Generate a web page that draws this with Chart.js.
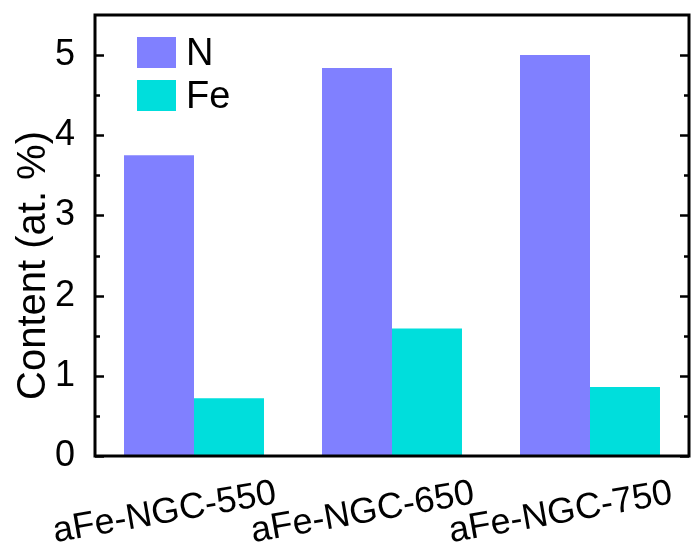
<!DOCTYPE html>
<html>
<head>
<meta charset="utf-8">
<script src="https://cdn.jsdelivr.net/npm/chart.js@4"></script>
<style>
    html, body { margin: 0; padding: 0; background: #fff; }
    #wrap { width: 691px; height: 547px; }
</style>
</head>
<body>
<div id="wrap"><canvas id="contentChart" width="691" height="547"></canvas></div>
<script>
var categories = ["aFe-NGC-550", "aFe-NGC-650", "aFe-NGC-750"];
var nValues = [3.75, 4.84, 5.0];
var feValues = [0.72, 1.59, 0.86];
var yTicks = [0, 1, 2, 3, 4, 5];
var yTitle = "Content (at. %)";

var FONT = "'Liberation Sans', Arial, sans-serif";
Chart.defaults.color = "#000";
Chart.defaults.font.family = FONT;

// frame, inner tick marks, legend and y title
var decorations = {
    id: "decorations",
    afterDraw: function(chart) {
        var ctx = chart.ctx;
        var area = chart.chartArea;
        var y = chart.scales.y;
        ctx.save();
        ctx.strokeStyle = "#000";
        ctx.lineWidth = 3;
        ctx.strokeRect(area.left, area.top, area.right - area.left, area.bottom - area.top);

        ctx.lineWidth = 2.5;
        for (var v = 0; v <= 5; v += 0.5) {
            var py = Math.round(y.getPixelForValue(v)) + 0.5;
            var len = (v % 1 === 0) ? 9 : 5;
            ctx.beginPath();
            ctx.moveTo(area.left, py);
            ctx.lineTo(area.left + len, py);
            ctx.moveTo(area.right, py);
            ctx.lineTo(area.right - len, py);
            ctx.stroke();
        }

        // legend
        var ds = chart.data.datasets;
        ctx.font = "38px " + FONT;
        ctx.textAlign = "left";
        ctx.textBaseline = "alphabetic";
        for (var i = 0; i < ds.length; i++) {
            var top = 37 + i * 43;
            ctx.fillStyle = ds[i].backgroundColor;
            ctx.fillRect(137, top, 39, 31);
            ctx.fillStyle = "#000";
            ctx.fillText(ds[i].label, 186, top + 28);
        }

        // y axis title
        ctx.translate(45, (area.top + area.bottom) / 2 + 30);
        ctx.rotate(-Math.PI / 2);
        ctx.font = "40px " + FONT;
        ctx.textAlign = "center";
        ctx.fillText(yTitle, 0, 0);
        ctx.restore();
    }
};

var ctx = document.getElementById("contentChart").getContext("2d");
var contentChart = new Chart(ctx, {
    type: "bar",
    data: {
        labels: categories,
        datasets: [{
            label: "N",
            data: nValues,
            backgroundColor: "#8080ff",
            categoryPercentage: 0.707,
            barPercentage: 1.0
        }, {
            label: "Fe",
            data: feValues,
            backgroundColor: "#00dedc",
            categoryPercentage: 0.707,
            barPercentage: 1.0
        }]
    },
    options: {
        responsive: false,
        animation: false,
        layout: { padding: { top: 15, right: 2 } },
        plugins: {
            legend: { display: false },
            tooltip: { enabled: false }
        },
        scales: {
            x: {
                grid: { display: false },
                border: { display: false },
                ticks: {
                    font: { size: 36 },
                    minRotation: 10,
                    maxRotation: 10,
                    autoSkip: false,
                    labelOffset: 82,
                    padding: 8
                },
                afterFit: function(scale) {
                    scale.height = 91;
                    scale.paddingLeft = 0;
                    scale.paddingRight = 0;
                }
            },
            y: {
                min: 0,
                max: 5.5,
                grid: { display: false },
                border: { display: false },
                ticks: {
                    stepSize: 1,
                    padding: 12,
                    font: { size: 36 },
                    callback: function(value) {
                        return yTicks.indexOf(value) >= 0 ? value : "";
                    }
                },
                afterFit: function(scale) {
                    scale.width = 95;
                    scale.paddingTop = 0;
                    scale.paddingBottom = 0;
                }
            }
        }
    },
    plugins: [decorations]
});
</script>
</body>
</html>
